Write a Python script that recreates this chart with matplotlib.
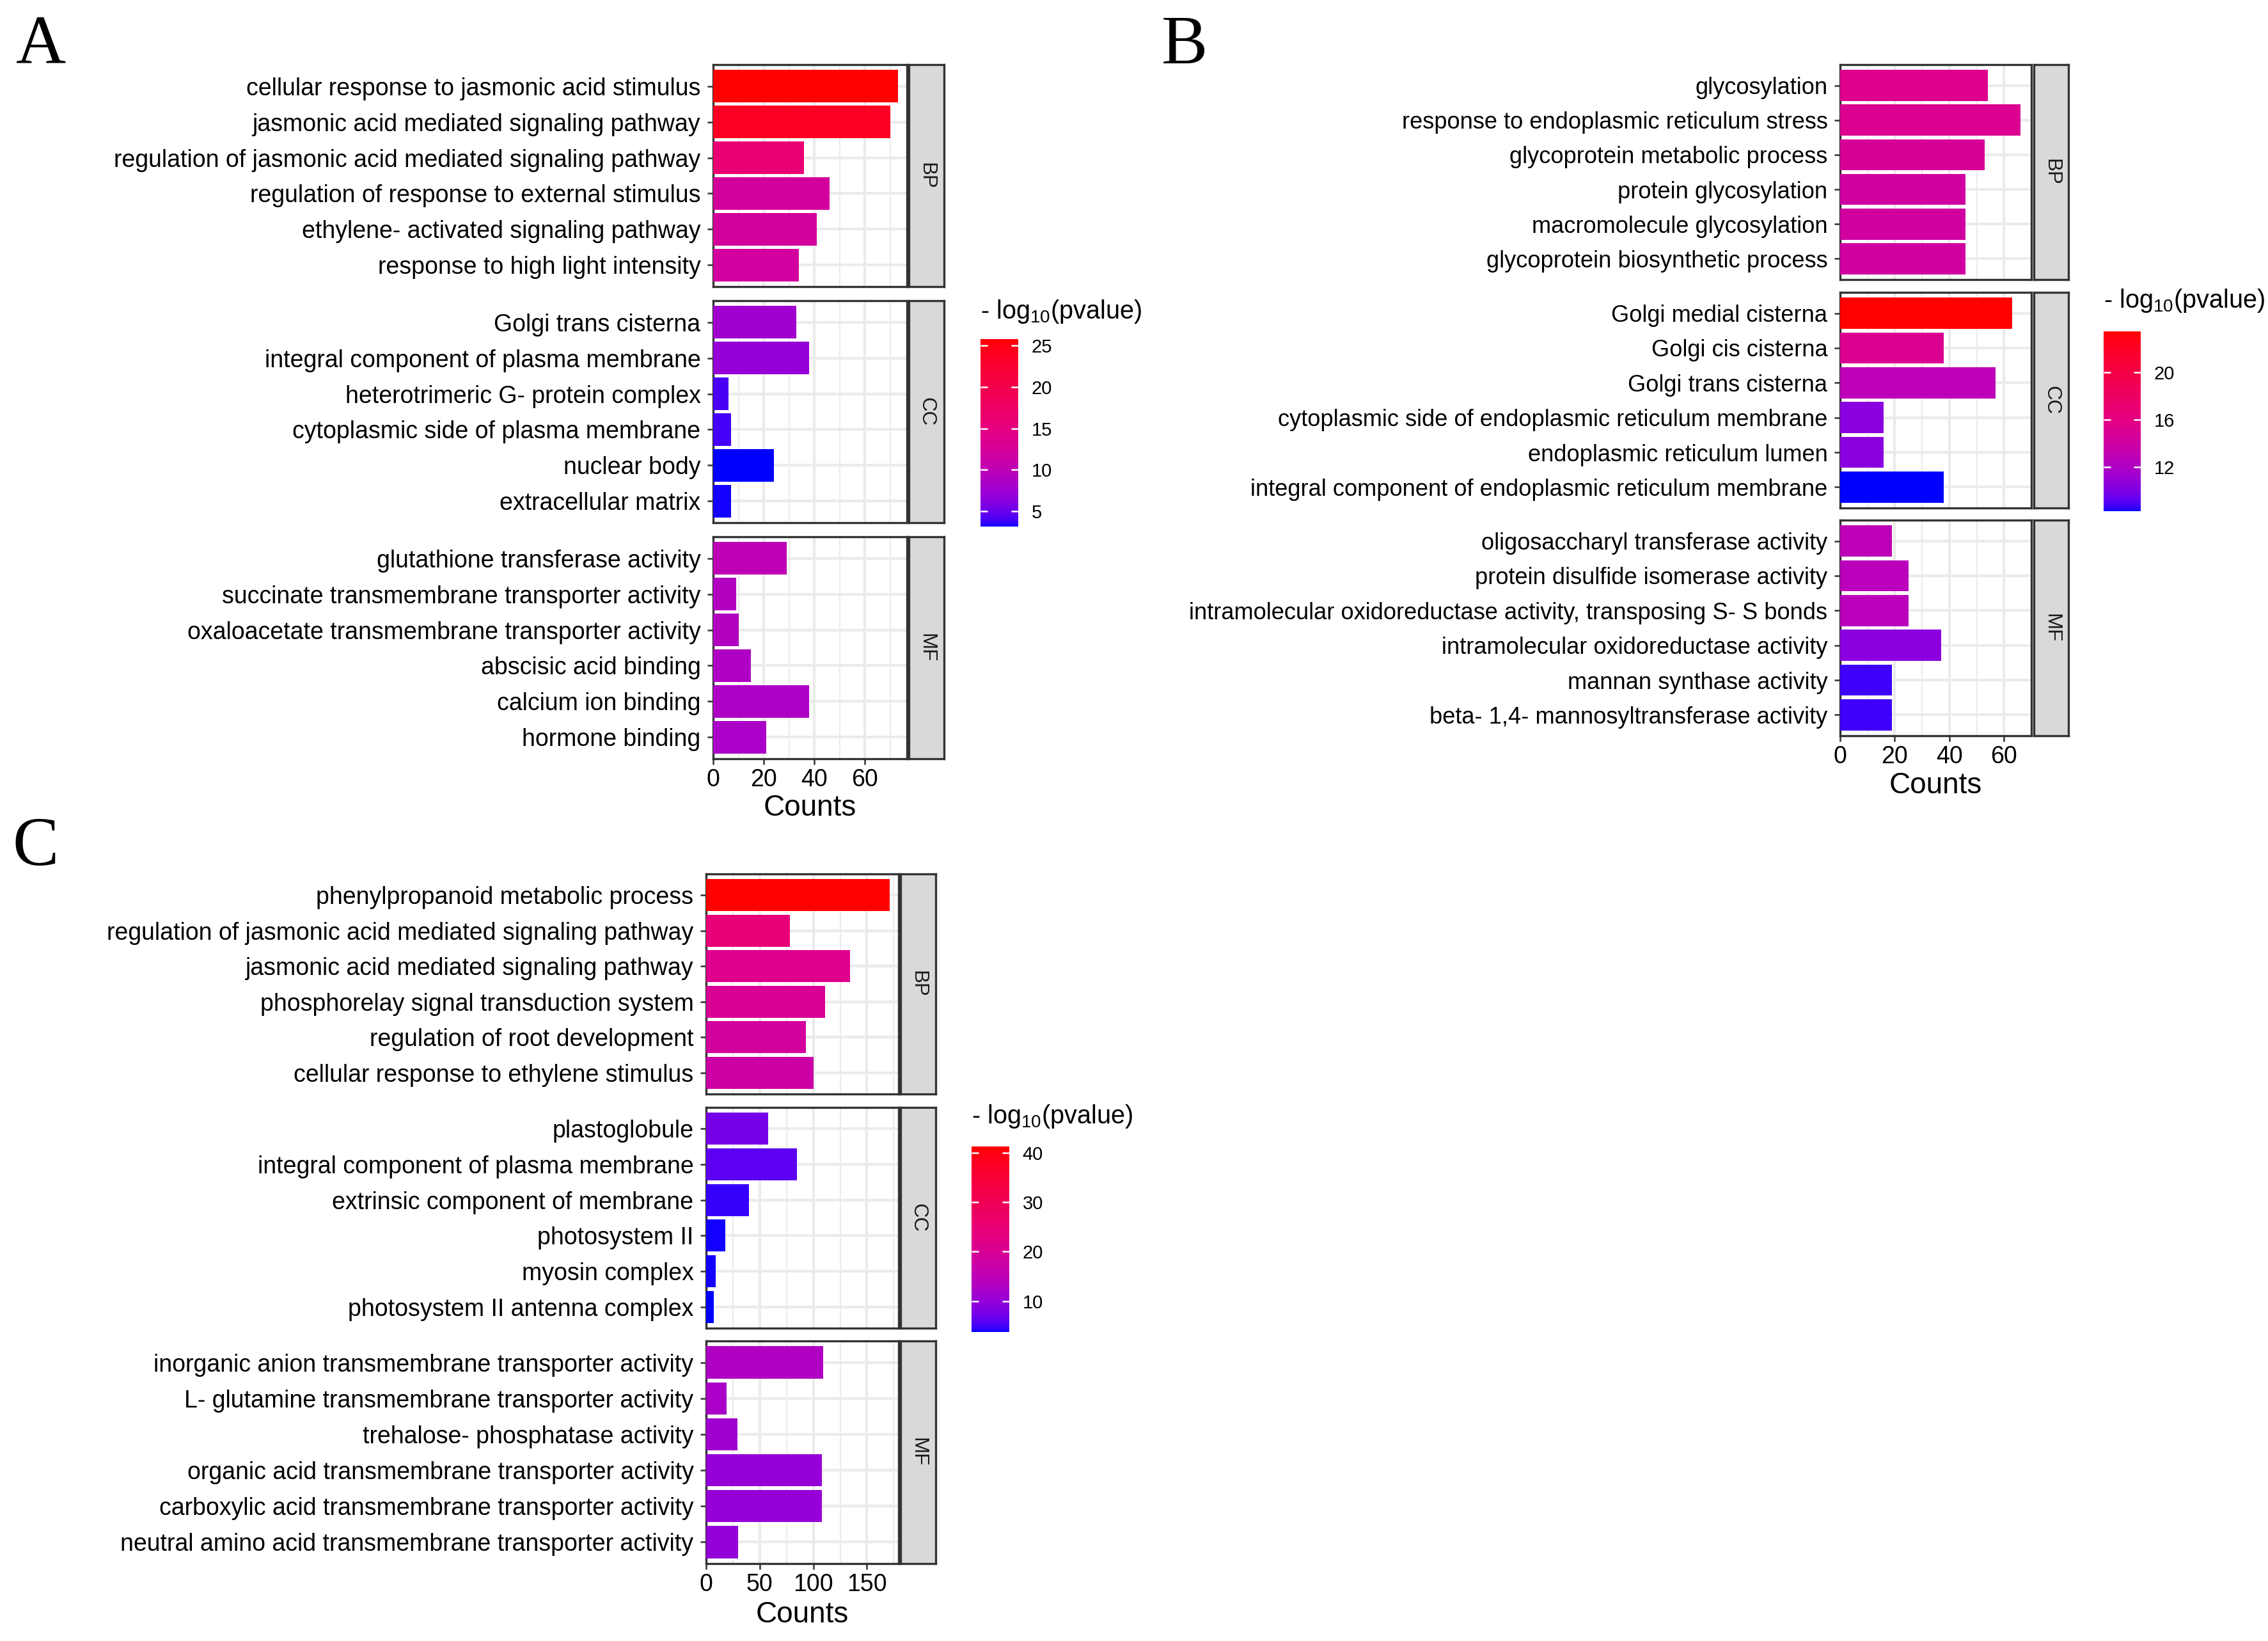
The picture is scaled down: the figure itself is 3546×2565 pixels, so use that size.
import numpy as np
import matplotlib
matplotlib.use("Agg")
import matplotlib.pyplot as plt
from matplotlib.colors import ListedColormap, Normalize
from matplotlib.cm import ScalarMappable

plt.rcParams['font.family'] = ['Liberation Sans', 'DejaVu Sans']
plt.rcParams['mathtext.default'] = 'regular'

# ---------------- data ----------------
a_terms = ["cellular response to jasmonic acid stimulus",
           "jasmonic acid mediated signaling pathway",
           "regulation of jasmonic acid mediated signaling pathway",
           "regulation of response to external stimulus",
           "ethylene- activated signaling pathway",
           "response to high light intensity",
           "Golgi trans cisterna",
           "integral component of plasma membrane",
           "heterotrimeric G- protein complex",
           "cytoplasmic side of plasma membrane",
           "nuclear body",
           "extracellular matrix",
           "glutathione transferase activity",
           "succinate transmembrane transporter activity",
           "oxaloacetate transmembrane transporter activity",
           "abscisic acid binding",
           "calcium ion binding",
           "hormone binding"]
a_counts = [73, 70, 36, 46, 41, 34,
            33, 38, 6, 7, 24, 7,
            29, 9, 10, 15, 38, 21]
a_logp = [25.8, 23.8, 16.0, 12.4, 12.3, 12.0,
          7.7, 7.0, 4.05, 3.9, 3.15, 3.3,
          10.0, 9.0, 9.0, 8.8, 8.6, 8.4]

b_terms = ["glycosylation",
           "response to endoplasmic reticulum stress",
           "glycoprotein metabolic process",
           "protein glycosylation",
           "macromolecule glycosylation",
           "glycoprotein biosynthetic process",
           "Golgi medial cisterna",
           "Golgi cis cisterna",
           "Golgi trans cisterna",
           "cytoplasmic side of endoplasmic reticulum membrane",
           "endoplasmic reticulum lumen",
           "integral component of endoplasmic reticulum membrane",
           "oligosaccharyl transferase activity",
           "protein disulfide isomerase activity",
           "intramolecular oxidoreductase activity, transposing S- S bonds",
           "intramolecular oxidoreductase activity",
           "mannan synthase activity",
           "beta- 1,4- mannosyltransferase activity"]
b_counts = [54, 66, 53, 46, 46, 46,
            63, 38, 57, 16, 16, 38,
            19, 25, 25, 37, 19, 19]
b_logp = [15.4, 15.2, 14.8, 14.2, 14.2, 14.2,
          23.5, 15.2, 12.8, 10.4, 10.4, 8.25,
          12.8, 12.6, 12.6, 10.4, 8.7, 8.7]

c_terms = ["phenylpropanoid metabolic process",
           "regulation of jasmonic acid mediated signaling pathway",
           "jasmonic acid mediated signaling pathway",
           "phosphorelay signal transduction system",
           "regulation of root development",
           "cellular response to ethylene stimulus",
           "plastoglobule",
           "integral component of plasma membrane",
           "extrinsic component of membrane",
           "photosystem II",
           "myosin complex",
           "photosystem II antenna complex",
           "inorganic anion transmembrane transporter activity",
           "L- glutamine transmembrane transporter activity",
           "trehalose- phosphatase activity",
           "organic acid transmembrane transporter activity",
           "carboxylic acid transmembrane transporter activity",
           "neutral amino acid transmembrane transporter activity"]
c_counts = [171, 78, 134, 111, 93, 100,
            58, 85, 40, 18, 9, 7,
            109, 19, 29, 108, 108, 30]
c_logp = [41.25, 24.5, 21.4, 19.9, 18.8, 17.6,
          7.5, 6.0, 4.6, 3.95, 3.95, 3.75,
          13.1, 12.5, 11.3, 10.1, 10.1, 10.0]

ontologies = ["BP"] * 6 + ["CC"] * 6 + ["MF"] * 6
ont_order = ["BP", "CC", "MF"]

a_xticks = [0, 20, 40, 60]
b_xticks = [0, 20, 40, 60]
c_xticks = [0, 50, 100, 150]
a_cbticks = [5, 10, 15, 20, 25]
b_cbticks = [12, 16, 20]
c_cbticks = [10, 20, 30, 40]


# ------------- blue -> red gradient (perceptual interpolation) -------------
def _to_lin(c):
    return np.where(c <= 0.04045, c / 12.92, ((c + 0.055) / 1.055) ** 2.4)


def _to_srgb(c):
    c = np.clip(c, 0, 1)
    return np.where(c <= 0.0031308, 12.92 * c, 1.055 * c ** (1 / 2.4) - 0.055)


_M = np.array([[0.4124, 0.3576, 0.1805],
               [0.2126, 0.7152, 0.0722],
               [0.0193, 0.1192, 0.9505]])
_Mi = np.linalg.inv(_M)
_WP = np.array([0.95047, 1.0, 1.08883])
_d = 6 / 29


def _f(t):
    return np.where(t > _d ** 3, np.cbrt(t), t / (3 * _d ** 2) + 4 / 29)


def _finv(t):
    return np.where(t > _d, t ** 3, 3 * _d ** 2 * (t - 4 / 29))


def rgb2lab(rgb):
    xyz = _M @ _to_lin(np.asarray(rgb, float)) / _WP
    fx, fy, fz = _f(xyz)
    return np.array([116 * fy - 16, 500 * (fx - fy), 200 * (fy - fz)])


def lab2rgb(lab):
    L, a, b = lab
    fy = (L + 16) / 116
    fx = fy + a / 500
    fz = fy - b / 200
    xyz = np.array([_finv(fx), _finv(fy), _finv(fz)]) * _WP
    return _to_srgb(_Mi @ xyz)


lab_lo = rgb2lab([0, 0, 1])
lab_hi = rgb2lab([1, 0, 0])
C_lo, C_hi = np.hypot(lab_lo[1], lab_lo[2]), np.hypot(lab_hi[1], lab_hi[2])
h_lo, h_hi = np.arctan2(lab_lo[2], lab_lo[1]), np.arctan2(lab_hi[2], lab_hi[1])
cols = []
for t in np.linspace(0, 1, 256):
    c_lab = lab2rgb(lab_lo + (lab_hi - lab_lo) * t)
    L = lab_lo[0] + (lab_hi[0] - lab_lo[0]) * t
    Cc = C_lo + (C_hi - C_lo) * t
    hh = h_lo + (h_hi - h_lo) * t
    c_hcl = lab2rgb(np.array([L, Cc * np.cos(hh), Cc * np.sin(hh)]))
    cols.append(0.5 * (c_lab + c_hcl))
cmap = ListedColormap(np.clip(np.array(cols), 0, 1))

# ---------------- figure ----------------
W, H = 3546, 2565
DPI = 300
fig = plt.figure(figsize=(W / DPI, H / DPI), dpi=DPI)
fig.patch.set_facecolor("white")


def px_axes(x0, y0, x1, y1):
    return fig.add_axes([x0 / W, 1 - y1 / H, (x1 - x0) / W, (y1 - y0) / H])


DARK = "#333333"


def draw_panel(terms, counts, logp, xticks, cbticks, geo):
    norm = Normalize(vmin=min(logp), vmax=max(logp))
    xmax = max(counts) * 1.05
    minor = [(xticks[i] + xticks[i + 1]) / 2 for i in range(len(xticks) - 1)]
    minor.append(xticks[-1] + (xticks[1] - xticks[0]) / 2)
    x0, x1, sx0, sx1 = geo["x"]
    for k, ont in enumerate(ont_order):
        y0, y1 = geo["rows"][k]
        idx = [i for i, o in enumerate(ontologies) if o == ont]
        t = [terms[i] for i in idx]
        v = [counts[i] for i in idx]
        c = [cmap(norm(logp[i])) for i in idx]
        ax = px_axes(x0, y0, x1, y1)
        pos = np.arange(len(t))
        ax.barh(pos, v, height=0.9, color=c, zorder=3)
        ax.set_ylim(len(t) - 0.4, -0.6)
        ax.set_xlim(0, xmax)
        ax.set_yticks(pos)
        ax.set_yticklabels(t)
        ax.set_xticks(xticks)
        ax.set_xticks(minor, minor=True)
        ax.grid(which="major", color="#EBEBEB", lw=1.0, zorder=0)
        ax.grid(which="minor", axis="x", color="#EBEBEB", lw=0.5, zorder=0)
        ax.set_axisbelow(True)
        for s in ax.spines.values():
            s.set_color(DARK)
            s.set_linewidth(0.8)
        ax.tick_params(axis="y", length=2.2, width=0.6, color=DARK, pad=2.5,
                       labelsize=geo["fs"], labelcolor="black")
        ax.tick_params(axis="x", which="minor", length=0)
        if k < 2:
            ax.tick_params(axis="x", which="major", length=0, labelbottom=False)
        else:
            ax.tick_params(axis="x", which="major", length=2.2, width=0.6, color=DARK,
                           pad=1.5, labelsize=9, labelcolor="black")
        # facet strip
        sa = px_axes(sx0, y0, sx1, y1)
        sa.set_facecolor("#D9D9D9")
        sa.set_xticks([])
        sa.set_yticks([])
        for s in sa.spines.values():
            s.set_color(DARK)
            s.set_linewidth(0.8)
        sa.text(0.5, 0.5, ont, rotation=270, ha="center", va="center",
                fontsize=7.5, color="#1A1A1A", transform=sa.transAxes)
    # x axis title
    fig.text(((x0 + x1) / 2) / W, 1 - geo["counts_y"] / H, "Counts",
             ha="center", va="center", fontsize=11)
    # colorbar
    cx0, cy0, cx1, cy1 = geo["cbar"]
    cax = px_axes(cx0, cy0, cx1, cy1)
    sm = ScalarMappable(norm=norm, cmap=cmap)
    cb = fig.colorbar(sm, cax=cax)
    cb.outline.set_visible(False)
    cb.set_ticks(cbticks)
    cax.tick_params(axis="y", direction="in", left=True, right=True, color="white",
                    length=2.6, width=0.6, labelsize=7, pad=5, labelcolor="black")
    fig.text(cx0 / W, 1 - geo["title_y"] / H, r"- log$_{10}$(pvalue)",
             ha="left", va="center", fontsize=9.5)
    # panel letter
    lx, ly = geo["letter"]
    fig.text(lx / W, 1 - ly / H, geo["name"], ha="left", va="baseline",
             fontsize=26, family="Liberation Serif")


geo_a = dict(name="A", x=(1115, 1418, 1421, 1476), fs=9,
             rows=[(101, 448), (470, 817), (839, 1186)],
             counts_y=1263, cbar=(1533, 530, 1592, 823), title_y=487,
             letter=(25, 99))
geo_b = dict(name="B", x=(2877, 3176, 3180, 3234), fs=8.7,
             rows=[(101, 437), (457, 794), (813, 1150)],
             counts_y=1228, cbar=(3289, 518, 3347, 799), title_y=470,
             letter=(1816, 99))
geo_c = dict(name="C", x=(1104, 1405, 1408, 1463), fs=9,
             rows=[(1366, 1710), (1731, 2076), (2096, 2444)],
             counts_y=2524, cbar=(1519, 1792, 1578, 2082), title_y=1745,
             letter=(20, 1352))

draw_panel(a_terms, a_counts, a_logp, a_xticks, a_cbticks, geo_a)
draw_panel(b_terms, b_counts, b_logp, b_xticks, b_cbticks, geo_b)
draw_panel(c_terms, c_counts, c_logp, c_xticks, c_cbticks, geo_c)

fig.savefig("out.png", dpi=DPI, facecolor="white")
